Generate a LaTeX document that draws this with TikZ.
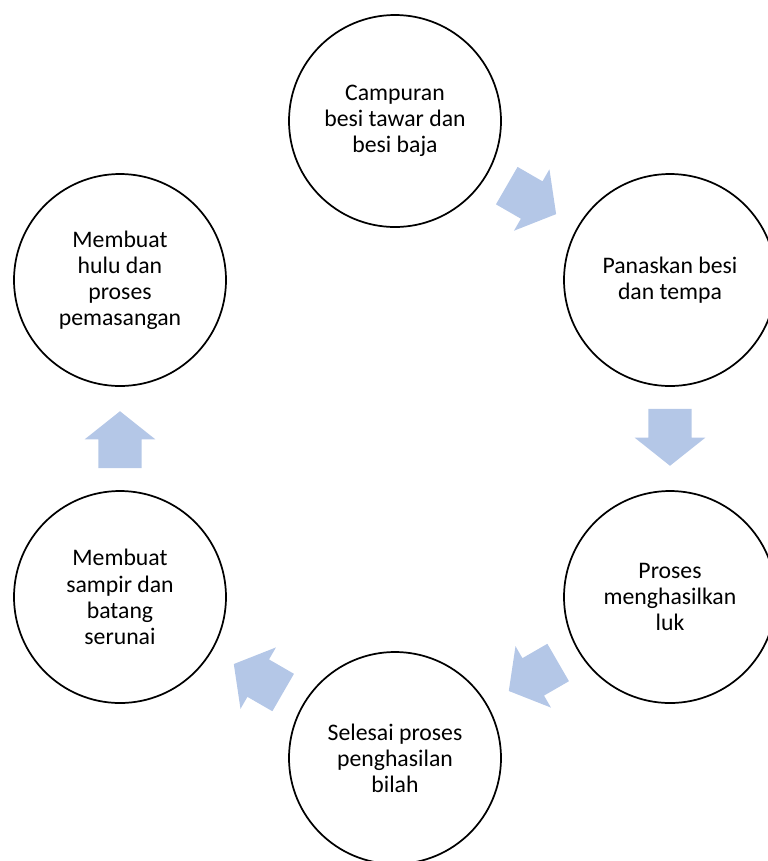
\documentclass[tikz,border=0pt]{standalone}
\usepackage{fontspec}
\setmainfont{Carlito}
\usepackage{xcolor}
\usetikzlibrary{arrows,shapes.arrows,positioning,shapes,calc}
\definecolor{cycleblue}{HTML}{B4C7E7}

\begin{document}
\begin{tikzpicture}[x = .75pt, y = -.75pt,
    stage/.style = {draw, circle, line width = 1.3pt, minimum size = 159pt, inner sep = 0pt, align = center, font = \fontsize{17.8}{19.6}\selectfont},
    flow/.style = {single arrow, fill = cycleblue, draw = none, anchor = tail, minimum height = 42.75pt, inner xsep = 0pt, inner ysep = 16pt, single arrow head extend = 10.4pt, single arrow tip angle = 103, single arrow head indent = 0pt}]
    \useasboundingbox (0,0) rectangle (768,861);
    % Stages of the cycle
    \node[stage] (campur) at (395,121) {Campuran\\besi tawar dan\\besi baja};
    \node[stage] (panas) at (670,280) {Panaskan besi\\dan tempa};
    \node[stage] (luk) at (670,597) {Proses\\menghasilkan\\luk};
    \node[stage] (bilah) at (395,758) {Selesai proses\\penghasilan\\bilah};
    \node[stage] (sampir) at (120,597) {Membuat\\sampir dan\\batang\\serunai};
    \node[stage] (hulu) at (120,280) {Membuat\\hulu dan\\proses\\pemasangan};
    % Arrows between stages (tail set back from the midpoint)
    \node[flow, rotate = -30] (campur-panas) at ($(campur)!.5!(panas)!22.5pt!(campur)$) {};
    \node[flow, rotate = -90] (panas-luk) at ($(panas)!.5!(luk)!22.5pt!(panas)$) {};
    \node[flow, rotate = -150] (luk-bilah) at ($(luk)!.5!(bilah)!22.5pt!(luk)$) {};
    \node[flow, rotate = 150] (bilah-sampir) at ($(bilah)!.5!(sampir)!22.5pt!(bilah)$) {};
    \node[flow, rotate = 90] (sampir-hulu) at ($(sampir)!.5!(hulu)!22.5pt!(sampir)$) {};
\end{tikzpicture}
\end{document}
